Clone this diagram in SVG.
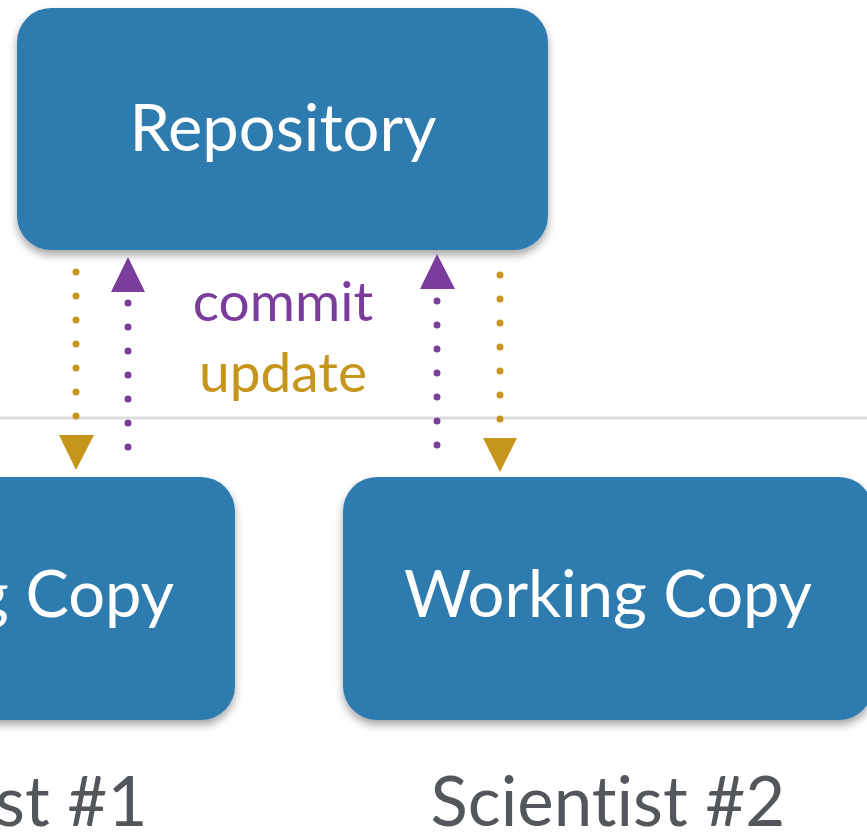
<svg xmlns="http://www.w3.org/2000/svg" width="867" height="836" viewBox="0 0 867 836">
<defs>
<filter id="sh" x="-10%" y="-10%" width="120%" height="130%">
<feDropShadow dx="0" dy="5" stdDeviation="4" flood-color="#000" flood-opacity="0.35"/>
</filter>
</defs>
<style>
text{font-family:Lato,"Noto Sans",sans-serif;text-anchor:middle;font-variant-ligatures:none}
.box{fill:#2e7baf;filter:url(#sh)}
.lbl{fill:#fff;font-size:65px}
.sci{fill:#53575c;font-size:69px}
.cap{font-size:55px}
.gold{stroke:#c6961c}
.purp{stroke:#7b3d9b}
.dot{stroke-width:7;stroke-linecap:round;stroke-dasharray:0 24;fill:none}
</style>
<rect width="867" height="836" fill="#fff"/>
<line x1="0" y1="418" x2="867" y2="418" stroke="#dddddd" stroke-width="3"/>
<g id="repository">
<rect class="box" x="17" y="8" width="531" height="242" rx="34"/>
<text class="lbl" x="283" y="151">Repository</text>
</g>
<g id="wc1">
<rect class="box" x="-295" y="477" width="530" height="243" rx="34"/>
<text class="lbl" x="-30" y="617">Working Copy</text>
</g>
<g id="wc2">
<rect class="box" x="343" y="477" width="530" height="243" rx="34"/>
<text class="lbl" x="608" y="617">Working Copy</text>
</g>
<g id="sci1"><text class="sci" x="-30" y="826">Scientist #1</text></g>
<g id="sci2"><text class="sci" x="608" y="826">Scientist #2</text></g>
<g id="connectors">
<line class="dot gold" x1="76" y1="272" x2="76" y2="417"/>
<polygon fill="#c6961c" points="59,435 94,435 76,470"/>
<line class="dot purp" x1="128" y1="303" x2="128" y2="448"/>
<polygon fill="#7b3d9b" points="111,292 145,292 128,257"/>
<line class="dot purp" x1="437" y1="301" x2="437" y2="446"/>
<polygon fill="#7b3d9b" points="420,289 455,289 437,254"/>
<line class="dot gold" x1="500" y1="275" x2="500" y2="420"/>
<polygon fill="#c6961c" points="483,438 517,438 500,472"/>
<text class="cap" x="283" y="321" fill="#7b3d9b">commit</text>
<text class="cap" x="283" y="392" fill="#c6961c">update</text>
</g>
</svg>
